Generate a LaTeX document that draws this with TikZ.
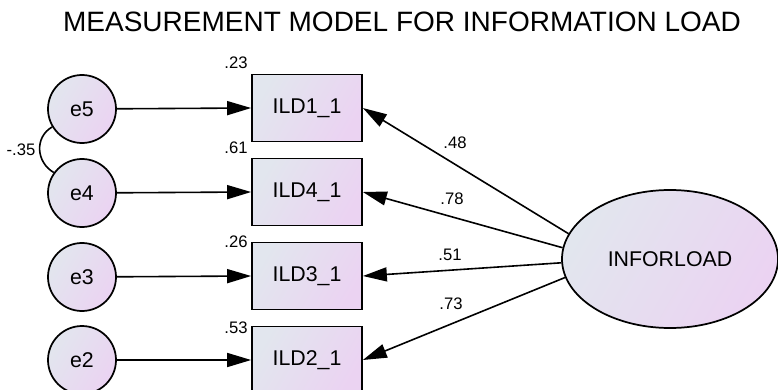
\documentclass[tikz,border=0pt]{standalone}
\usepackage{fontspec}
\setmainfont{Liberation Sans}
\usetikzlibrary{shapes.geometric,arrows.meta}
\definecolor{gA}{HTML}{E2E6EE}
\definecolor{gB}{HTML}{EBD3F2}
\tikzset{
  x=0.75pt, y=-0.75pt,
  grad/.style={draw=black, line width=1.3pt, left color=gA, right color=gB, shading angle=60},
  errc/.style={grad, circle, minimum size=51pt, inner sep=0pt, font=\fontsize{16}{19}\selectfont},
  obsbox/.style={grad, rectangle, minimum width=82.5pt, minimum height=50.25pt, inner sep=0pt, font=\fontsize{16}{19}\selectfont},
  latent/.style={grad, ellipse, minimum width=162pt, minimum height=103.5pt, inner sep=0pt, font=\fontsize{16}{19}\selectfont},
  val/.style={font=\fontsize{12.5}{15}\selectfont, inner sep=0pt},
  path/.style={draw, line width=1.2pt, -{Triangle[length=18pt,width=10.5pt]}},
}
\begin{document}
\begin{tikzpicture}
\useasboundingbox (0,0) rectangle (778,389);
\node[font=\fontsize{21}{25}\selectfont] (title) at (402,22) {MEASUREMENT MODEL FOR INFORMATION LOAD};

\node[errc] (e5) at (82,109) {e5};
\node[errc] (e4) at (82,193) {e4};
\node[errc] (e3) at (82,277) {e3};
\node[errc] (e2) at (82,360) {e2};

\node[obsbox] (b1) at (307,108) {ILD1\_1};
\node[obsbox] (b4) at (307,192) {ILD4\_1};
\node[obsbox] (b3) at (307,276) {ILD3\_1};
\node[obsbox] (b2) at (307,360) {ILD2\_1};

\node[latent] (inf) at (670,259) {INFORLOAD};

\node[val] (v1) at (236,63) {.23};
\node[val] (v4) at (236,148) {.61};
\node[val] (v3) at (236,242) {.26};
\node[val] (v2) at (236,328) {.53};
\node[val] (cv) at (21,150) {-.35};

\draw[path] (e5) -- (b1.west);
\draw[path] (e4) -- (b4.west);
\draw[path] (e3) -- (b3.west);
\draw[path] (e2) -- (b2.west);

\draw[path] (inf.166) -- (b1.east);
\draw[path] (inf.174) -- (b4.east);
\draw[path] (inf.182) -- (b3.east);
\draw[path] (inf.190) -- (b2.east);

\node[val] (l1) at (455,143) {.48};
\node[val] (l4) at (452,199) {.78};
\node[val] (l3) at (450,255) {.51};
\node[val] (l2) at (451,304) {.73};

\draw[line width=1.2pt] (e5.211) to[out=210,in=150,looseness=1.15] (e4.144);
\end{tikzpicture}
\end{document}
